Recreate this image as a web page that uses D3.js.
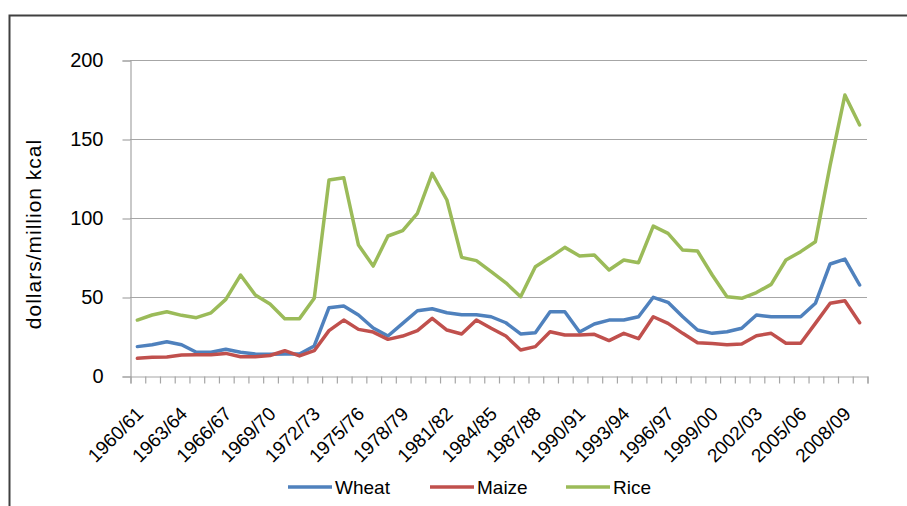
<!DOCTYPE html>
<html>
<head>
<meta charset="utf-8">
<script src="https://cdn.jsdelivr.net/npm/d3@7"></script>
<style>
  body { margin: 0; background: #fff; }
  svg { display: block; font-family: "Liberation Sans", Arial, sans-serif; }
</style>
</head>
<body>
<script>
const seasons = [
  "1960/61","1961/62","1962/63","1963/64","1964/65","1965/66","1966/67","1967/68","1968/69","1969/70",
  "1970/71","1971/72","1972/73","1973/74","1974/75","1975/76","1976/77","1977/78","1978/79","1979/80",
  "1980/81","1981/82","1982/83","1983/84","1984/85","1985/86","1986/87","1987/88","1988/89","1989/90",
  "1990/91","1991/92","1992/93","1993/94","1994/95","1995/96","1996/97","1997/98","1998/99","1999/00",
  "2000/01","2001/02","2002/03","2003/04","2004/05","2005/06","2006/07","2007/08","2008/09","2009/10"
]

const wheat = [
  18.6, 19.8, 21.7, 19.8, 15, 15, 16.9, 15, 13.9, 13.7,
  13.9, 13.9, 19, 43.2, 44.3, 38.6, 30.4, 25.3, 33.3, 41.3,
  42.6, 40, 38.8, 38.8, 37.5, 33.7, 26.6, 27.4, 40.7, 40.7,
  27.8, 32.9, 35.4, 35.4, 37.5, 49.8, 46.6, 37.5, 29.1, 27,
  28, 30.2, 38.6, 37.5, 37.5, 37.5, 46, 70.9, 74, 57.6
]

const maize = [
  11.2, 11.8, 12, 13.3, 13.5, 13.5, 14.3, 12.2, 12.2, 13,
  16, 12.7, 16, 28.7, 35.4, 29.5, 27.8, 23.2, 25.3, 28.7,
  36.5, 29.1, 26.6, 35.4, 30.2, 25.3, 16.5, 18.6, 28, 25.9,
  25.9, 26.4, 22.4, 27, 23.6, 37.5, 33.3, 27, 21.1, 20.5,
  19.8, 20.3, 25.5, 27, 20.7, 20.7, 33.3, 46, 47.6, 33.7
]

const rice = [
  35.4, 38.6, 40.7, 38.4, 36.9, 40, 48.5, 63.9, 51.3, 45.6,
  36.3, 36.3, 49.2, 124, 125.5, 82.9, 69.6, 88.6, 92, 103,
  128.3, 111.4, 75.1, 73, 66, 59, 50.2, 69.2, 75.1, 81.4,
  76, 76.6, 67.1, 73.4, 71.7, 94.9, 90.3, 79.7, 79.1, 63.9,
  50.2, 49.2, 52.8, 58, 73.4, 78.7, 85, 133.5, 177.8, 158.9
]

const yTicks = [0, 50, 100, 150, 200]

const series = [
  { name: "Wheat", values: wheat, color: "#4f81bd" },
  { name: "Maize", values: maize, color: "#c0504d" },
  { name: "Rice",  values: rice,  color: "#9bbb59" }
]

const width = 907
const height = 506
const plot = { left: 130, right: 867, top: 60, bottom: 376 }

const svg = d3.select("body").append("svg")
  .attr("width", width)
  .attr("height", height)

// outer frame (cut off at right and bottom)
svg.append("path")
  .attr("d", `M9.5,${height + 5} V15.5 H${width + 5}`)
  .attr("fill", "none")
  .attr("stroke", "#404040")
  .attr("stroke-width", 2)

// scales
const x = d3.scaleBand()
  .domain(seasons)
  .range([plot.left, plot.right])

const xEdge = d3.scaleLinear()
  .domain([0, seasons.length])
  .range([plot.left, plot.right])

const y = d3.scaleLinear()
  .domain([0, 200])
  .range([plot.bottom, plot.top])

// gridlines
svg.append("g")
  .selectAll("line")
  .data(yTicks.filter(d => d > 0))
  .join("line")
  .attr("x1", plot.left)
  .attr("x2", plot.right)
  .attr("y1", d => Math.round(y(d)) + 0.5)
  .attr("y2", d => Math.round(y(d)) + 0.5)
  .attr("stroke", "#a6a6a6")
  .attr("stroke-width", 1.2)

// y axis
const yAxis = svg.append("g")
  .attr("transform", `translate(${plot.left + 0.5},0.5)`)
  .call(d3.axisLeft(y).tickValues(yTicks).tickSize(8).tickPadding(19))
yAxis.select(".domain").attr("stroke", "#a6a6a6").attr("stroke-width", 1.2)
yAxis.selectAll(".tick line").attr("stroke", "#a6a6a6").attr("stroke-width", 1.2)
yAxis.selectAll("text")
  .attr("font-size", 20)
  .attr("fill", "#000")
  .attr("font-family", "Liberation Sans, Arial, sans-serif")

// x axis ticks at band edges
const xAxis = svg.append("g")
  .attr("transform", `translate(0.5,${plot.bottom + 0.5})`)
  .call(d3.axisBottom(xEdge).tickValues(d3.range(seasons.length + 1)).tickSize(7).tickFormat(""))
xAxis.select(".domain").attr("stroke", "#a6a6a6").attr("stroke-width", 1.2)
xAxis.selectAll(".tick line").attr("stroke", "#a6a6a6").attr("stroke-width", 1.2)

// x labels, every third season
svg.append("g")
  .selectAll("text")
  .data(seasons.filter((d, i) => i % 3 === 0))
  .join("text")
  .attr("transform", d => `translate(${x(d) + x.bandwidth() / 2 + 7},415) rotate(-45)`)
  .attr("text-anchor", "end")
  .attr("font-size", 19)
  .attr("fill", "#000")
  .text(d => d)

// y title
svg.append("text")
  .attr("transform", "translate(41,234) rotate(-90)")
  .attr("text-anchor", "middle")
  .attr("font-size", 21)
  .attr("letter-spacing", 1)
  .attr("fill", "#000")
  .text("dollars/million kcal")

// lines
const line = d3.line()
  .x((d, i) => x(seasons[i]) + x.bandwidth() / 2)
  .y(d => y(d))

svg.append("g")
  .selectAll("path")
  .data(series)
  .join("path")
  .attr("d", d => line(d.values))
  .attr("fill", "none")
  .attr("stroke", d => d.color)
  .attr("stroke-width", 3.5)
  .attr("stroke-linejoin", "round")
  .attr("stroke-linecap", "round")

// legend
const legendX = [288, 430, 566]
const legend = svg.append("g")
  .selectAll("g")
  .data(series)
  .join("g")
  .attr("transform", (d, i) => `translate(${legendX[i]},487)`)

legend.append("line")
  .attr("x1", 0)
  .attr("x2", 44)
  .attr("stroke", d => d.color)
  .attr("stroke-width", 3.5)

legend.append("text")
  .attr("x", 47)
  .attr("y", 7)
  .attr("font-size", 19)
  .attr("fill", "#000")
  .text(d => d.name)
</script>
</body>
</html>
